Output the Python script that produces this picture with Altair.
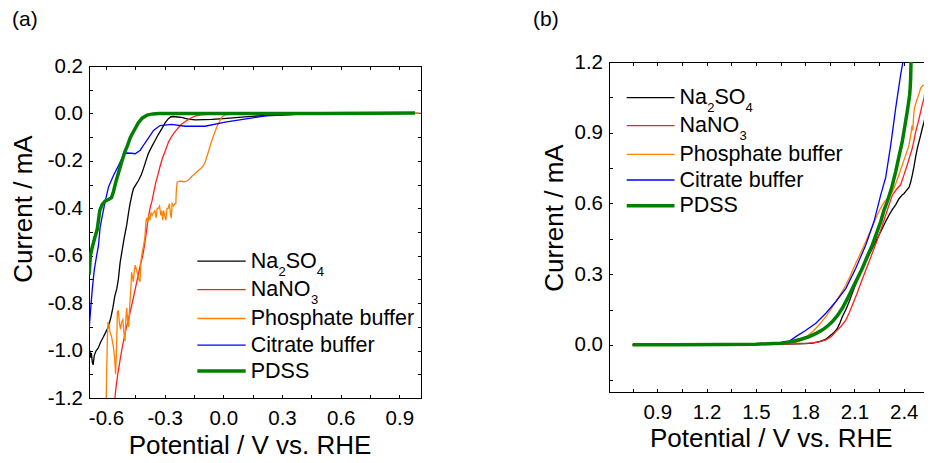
import altair as alt
import pandas as pd

FONT = "Liberation Sans"

SERIES = ["Na2SO4", "NaNO3", "Phosphate buffer", "Citrate buffer", "PDSS"]
LEGEND_PARTS = [
    [("Na", 0.0, False), ("2", 27.8, True), ("SO", 35.0, False), ("4", 66.0, True)],
    [("NaNO", 0.0, False), ("3", 60.2, True)],
    [("Phosphate buffer", 0.0, False)],
    [("Citrate buffer", 0.0, False)],
    [("PDSS", 0.0, False)],
]
COLORS = ["#000000", "#ff1f1f", "#ff8000", "#0000ff", "#008000"]
WIDTHS = [1.3, 1.3, 1.3, 1.3, 3.5]

# ---------------- panel (a): potential (V vs RHE), current (mA) ----------------
A_NA2SO4 = [(-0.689, -1.21), (-0.688, -1.10), (-0.686, -1.04), (-0.683, -1.00), (-0.679, -1.03),
            (-0.675, -1.01), (-0.670, -1.05), (-0.666, -1.06), (-0.660, -1.02), (-0.650, -1.00),
            (-0.640, -0.99), (-0.628, -0.965), (-0.615, -0.945), (-0.600, -0.92), (-0.588, -0.90),
            (-0.575, -0.86), (-0.565, -0.82), (-0.555, -0.77), (-0.545, -0.74), (-0.537, -0.70),
            (-0.528, -0.63), (-0.518, -0.58), (-0.508, -0.53), (-0.494, -0.47), (-0.485, -0.42),
            (-0.477, -0.38), (-0.468, -0.345), (-0.460, -0.318), (-0.447, -0.30), (-0.434, -0.283),
            (-0.420, -0.26), (-0.409, -0.234), (-0.396, -0.20), (-0.384, -0.170), (-0.366, -0.14),
            (-0.349, -0.114), (-0.332, -0.088), (-0.315, -0.065), (-0.298, -0.040), (-0.281, -0.022),
            (-0.268, -0.014), (-0.256, -0.013), (-0.235, -0.015), (-0.213, -0.017), (-0.180, -0.024),
            (-0.143, -0.027), (-0.100, -0.026), (-0.059, -0.025), (0.0, -0.022), (0.094, -0.016),
            (0.22, -0.008), (0.40, -0.003), (0.60, -0.001), (0.80, 0.0), (1.0, 0.0)]
A_NANO3 = [(-0.556, -1.21), (-0.548, -1.15), (-0.540, -1.10), (-0.530, -1.05), (-0.520, -1.00),
           (-0.508, -0.95), (-0.495, -0.90), (-0.480, -0.85), (-0.466, -0.80), (-0.453, -0.75),
           (-0.440, -0.70), (-0.426, -0.645), (-0.412, -0.60), (-0.402, -0.55), (-0.392, -0.49),
           (-0.384, -0.44), (-0.375, -0.40), (-0.365, -0.37), (-0.355, -0.33), (-0.345, -0.29),
           (-0.335, -0.26), (-0.324, -0.225), (-0.312, -0.19), (-0.300, -0.165), (-0.290, -0.142),
           (-0.280, -0.12), (-0.270, -0.105), (-0.260, -0.092), (-0.250, -0.080), (-0.238, -0.068),
           (-0.225, -0.055), (-0.213, -0.045), (-0.200, -0.037), (-0.187, -0.030), (-0.170, -0.022),
           (-0.155, -0.015), (-0.140, -0.010), (-0.120, -0.007), (-0.100, -0.005), (-0.070, -0.004),
           (-0.034, -0.004), (0.0, -0.003), (0.10, -0.002), (0.30, -0.001), (0.50, -0.001),
           (0.70, 0.0), (1.01, 0.0)]
A_PHOS = [(-0.599, -1.21), (-0.597, -1.10), (-0.593, -0.95), (-0.590, -0.88), (-0.585, -0.89),
          (-0.580, -0.92), (-0.572, -0.94), (-0.563, -0.98), (-0.556, -1.03), (-0.551, -1.10),
          (-0.547, -1.02), (-0.542, -0.84), (-0.537, -0.83), (-0.532, -0.88), (-0.526, -0.91),
          (-0.520, -0.88), (-0.514, -0.87), (-0.508, -0.93), (-0.503, -0.96), (-0.498, -0.86),
          (-0.494, -0.82), (-0.489, -0.88), (-0.484, -0.90), (-0.478, -0.80), (-0.473, -0.74),
          (-0.469, -0.67), (-0.464, -0.69), (-0.460, -0.71), (-0.455, -0.66), (-0.450, -0.64),
          (-0.444, -0.66), (-0.438, -0.68), (-0.432, -0.70), (-0.426, -0.71), (-0.421, -0.62),
          (-0.414, -0.58), (-0.408, -0.56), (-0.401, -0.52), (-0.396, -0.46), (-0.392, -0.44),
          (-0.387, -0.46), (-0.382, -0.43), (-0.375, -0.45), (-0.370, -0.42), (-0.364, -0.43),
          (-0.358, -0.42), (-0.350, -0.41), (-0.344, -0.44), (-0.338, -0.40), (-0.332, -0.40),
          (-0.326, -0.39), (-0.320, -0.43), (-0.315, -0.41), (-0.310, -0.45), (-0.305, -0.41),
          (-0.300, -0.43), (-0.294, -0.45), (-0.288, -0.40), (-0.282, -0.40), (-0.276, -0.38),
          (-0.270, -0.43), (-0.266, -0.44), (-0.262, -0.38), (-0.255, -0.39), (-0.248, -0.38),
          (-0.243, -0.38), (-0.240, -0.32), (-0.236, -0.29), (-0.225, -0.286), (-0.213, -0.286),
          (-0.200, -0.288), (-0.187, -0.285), (-0.175, -0.278), (-0.162, -0.266), (-0.145, -0.254),
          (-0.128, -0.241), (-0.115, -0.232), (-0.102, -0.220), (-0.093, -0.205), (-0.085, -0.185),
          (-0.072, -0.150), (-0.059, -0.114), (-0.046, -0.085), (-0.034, -0.058), (-0.020, -0.035),
          (-0.008, -0.016), (0.009, -0.006), (0.05, -0.003), (0.30, -0.001), (1.0, 0.0)]
A_CITRATE = [(-0.688, -0.93), (-0.680, -0.84), (-0.670, -0.74), (-0.660, -0.66), (-0.648, -0.60),
             (-0.639, -0.56), (-0.630, -0.48), (-0.621, -0.44), (-0.604, -0.37), (-0.587, -0.31),
             (-0.562, -0.262), (-0.536, -0.22), (-0.511, -0.177), (-0.494, -0.167), (-0.470, -0.168),
             (-0.451, -0.170), (-0.425, -0.155), (-0.405, -0.13), (-0.391, -0.114), (-0.357, -0.072),
             (-0.324, -0.051), (-0.264, -0.046), (-0.196, -0.054), (-0.093, -0.054), (0.009, -0.037),
             (0.10, -0.025), (0.22, -0.010), (0.40, -0.003), (0.60, -0.001), (0.98, 0.0)]
A_PDSS = [(-0.686, -0.68), (-0.680, -0.60), (-0.672, -0.57), (-0.656, -0.52), (-0.645, -0.49),
          (-0.632, -0.41), (-0.620, -0.385), (-0.605, -0.37), (-0.585, -0.362), (-0.572, -0.355),
          (-0.562, -0.33), (-0.550, -0.29), (-0.536, -0.25), (-0.520, -0.205), (-0.505, -0.165),
          (-0.490, -0.135), (-0.475, -0.10), (-0.455, -0.07), (-0.435, -0.04), (-0.415, -0.02),
          (-0.390, -0.007), (-0.360, -0.002), (-0.330, 0.0), (0.0, 0.0), (0.50, 0.0), (0.98, 0.002)]

# ---------------- panel (b) ----------------
B_NA2SO4 = [(0.75, 0.0), (1.0, 0.0), (1.3, 0.001), (1.5, 0.002), (1.65, 0.003), (1.75, 0.004),
            (1.80, 0.005), (1.845, 0.007), (1.886, 0.014), (1.92, 0.022), (1.946, 0.035),
            (1.972, 0.050), (1.997, 0.071), (2.012, 0.094), (2.027, 0.120), (2.048, 0.150),
            (2.068, 0.184), (2.093, 0.230), (2.118, 0.276), (2.143, 0.315), (2.169, 0.353),
            (2.194, 0.389), (2.219, 0.424), (2.245, 0.460), (2.270, 0.495), (2.290, 0.523),
            (2.311, 0.551), (2.331, 0.575), (2.351, 0.594), (2.371, 0.620), (2.391, 0.636),
            (2.402, 0.642), (2.417, 0.655), (2.432, 0.668), (2.442, 0.690), (2.452, 0.720),
            (2.462, 0.755), (2.473, 0.800), (2.483, 0.835), (2.493, 0.862), (2.503, 0.890),
            (2.513, 0.919), (2.523, 0.945), (2.533, 0.975), (2.543, 1.000), (2.553, 1.032),
            (2.563, 1.055), (2.575, 1.09)]
B_NANO3 = [(0.75, 0.0), (1.0, 0.0), (1.3, 0.001), (1.5, 0.002), (1.65, 0.003), (1.75, 0.005),
           (1.825, 0.007), (1.88, 0.012), (1.926, 0.021), (1.96, 0.035), (1.987, 0.056),
           (2.02, 0.080), (2.048, 0.106), (2.068, 0.135), (2.088, 0.170), (2.114, 0.215),
           (2.139, 0.262), (2.164, 0.308), (2.189, 0.353), (2.214, 0.399), (2.239, 0.445),
           (2.265, 0.497), (2.290, 0.551), (2.311, 0.595), (2.331, 0.636), (2.356, 0.660),
           (2.381, 0.679), (2.401, 0.720), (2.421, 0.763), (2.437, 0.800), (2.452, 0.834),
           (2.463, 0.870), (2.473, 0.905), (2.488, 0.945), (2.503, 0.989), (2.513, 1.020),
           (2.523, 1.046), (2.530, 1.080), (2.533, 1.103), (2.535, 1.160), (2.540, 1.190),
           (2.545, 1.170), (2.552, 1.160), (2.558, 1.200), (2.565, 1.23)]
B_PHOS = [(0.75, 0.0), (1.0, 0.0), (1.3, 0.001), (1.5, 0.003), (1.65, 0.006), (1.72, 0.009),
          (1.764, 0.014), (1.80, 0.030), (1.845, 0.056), (1.885, 0.085), (1.926, 0.120),
          (1.957, 0.150), (1.987, 0.184), (2.018, 0.218), (2.048, 0.254), (2.078, 0.298),
          (2.108, 0.346), (2.139, 0.392), (2.169, 0.438), (2.199, 0.487), (2.230, 0.537),
          (2.255, 0.575), (2.285, 0.610), (2.316, 0.630), (2.341, 0.664), (2.366, 0.712),
          (2.391, 0.763), (2.412, 0.805), (2.432, 0.848), (2.445, 0.900), (2.450, 0.930),
          (2.455, 0.910), (2.460, 0.970), (2.465, 1.004), (2.480, 1.040), (2.495, 1.070),
          (2.503, 1.089), (2.515, 1.100), (2.527, 1.103), (2.533, 1.159), (2.545, 1.175),
          (2.558, 1.187), (2.575, 1.20)]
B_CITRATE = [(0.75, 0.0), (1.0, 0.0), (1.3, 0.001), (1.5, 0.003), (1.6, 0.006), (1.65, 0.009),
             (1.70, 0.014), (1.75, 0.038), (1.80, 0.060), (1.865, 0.092), (1.926, 0.134),
             (1.987, 0.184), (2.048, 0.240), (2.108, 0.325), (2.169, 0.424), (2.219, 0.523),
             (2.260, 0.636), (2.290, 0.710), (2.321, 0.848), (2.351, 1.004), (2.381, 1.145),
             (2.400, 1.22)]
B_PDSS = [(0.75, 0.0), (1.0, 0.0), (1.3, 0.001), (1.5, 0.003), (1.65, 0.007), (1.723, 0.014),
          (1.78, 0.025), (1.825, 0.035), (1.87, 0.050), (1.906, 0.064), (1.94, 0.082),
          (1.966, 0.099), (1.997, 0.125), (2.027, 0.156), (2.058, 0.197), (2.088, 0.240),
          (2.118, 0.282), (2.148, 0.325), (2.178, 0.375), (2.209, 0.424), (2.235, 0.474),
          (2.260, 0.523), (2.280, 0.572), (2.300, 0.608), (2.326, 0.665), (2.351, 0.735),
          (2.371, 0.800), (2.391, 0.862), (2.406, 0.925), (2.421, 0.989), (2.430, 1.030),
          (2.436, 1.060), (2.440, 1.100), (2.442, 1.131), (2.446, 1.25)]

A_X_LABELS = [-0.6, -0.3, 0.0, 0.3, 0.6, 0.9]
A_X_TICKS = [-0.6, -0.45, -0.3, -0.15, 0.0, 0.15, 0.3, 0.45, 0.6, 0.75, 0.9]
A_Y_LABELS = [-1.2, -1.0, -0.8, -0.6, -0.4, -0.2, 0.0, 0.2]
A_Y_TICKS = [-1.2, -1.1, -1.0, -0.9, -0.8, -0.7, -0.6, -0.5, -0.4, -0.3, -0.2, -0.1, 0.0, 0.1, 0.2]
B_X_LABELS = [0.9, 1.2, 1.5, 1.8, 2.1, 2.4]
B_X_TICKS = [0.75, 0.9, 1.05, 1.2, 1.35, 1.5, 1.65, 1.8, 1.95, 2.1, 2.25, 2.4, 2.55]
B_Y_LABELS = [0.0, 0.3, 0.6, 0.9, 1.2]
B_Y_TICKS = [-0.15, 0.0, 0.15, 0.3, 0.45, 0.6, 0.75, 0.9, 1.05, 1.2]

LABEL_EXPR = "datum.value < -1e-9 ? '-' + format(-datum.value, '.1f') : format(datum.value, '.1f')"
TICK = 3.5
LABEL_SIZE = 20.5
LEGEND_SIZE = 21.5
SUB_SIZE = 13


def tick_axis(orient, vals, off):
    return alt.Axis(orient=orient, values=vals, labels=False, domain=False, grid=False,
                    ticks=True, tickSize=TICK, offset=off, tickColor="black", tickWidth=1,
                    title=None)


def frame_axis(orient, off):
    return alt.Axis(orient=orient, values=[], labels=False, ticks=False, grid=False,
                    domain=True, domainColor="black", domainWidth=1, domainCap="square",
                    offset=off, title=None)


def make_panel(data, xdom, ydom, w, h, inset, xlab, xtk, ylab, ytk, xtitle_xy, ytitle_xy,
               leg_line_x, leg_text_x, leg_rows, tag, tag_xy):
    xs = alt.Scale(domain=xdom, nice=False, zero=False)
    ys = alt.Scale(domain=ydom, nice=False, zero=False, range=[h + inset, inset])
    layers = []
    for k, pts in enumerate(data):
        df = pd.DataFrame({"V": [p[0] for p in pts], "I": [p[1] for p in pts],
                           "idx": list(range(len(pts))), "series": SERIES[k]})
        if k == 0:
            xa = alt.Axis(orient="bottom", values=xlab, labelExpr=LABEL_EXPR,
                          domain=True, domainColor="black", domainWidth=1, domainCap="square",
                          ticks=False, tickSize=0, grid=False, labelPadding=10.5,
                          labelFontSize=LABEL_SIZE, labelFont=FONT, labelColor="black",
                          labelFlush=False, labelOverlap=False,
                          title="Potential / V vs. RHE", titleFont=FONT, titleFontSize=26,
                          titleFontWeight="normal", titleColor="black",
                          titleX=xtitle_xy[0], titleY=xtitle_xy[1], titleAlign="center",
                          titleBaseline="alphabetic")
            ya = alt.Axis(orient="left", values=ylab, labelExpr=LABEL_EXPR,
                          domain=True, domainColor="black", domainWidth=1, domainCap="square",
                          ticks=False, tickSize=0, grid=False, labelPadding=6.5,
                          labelFontSize=LABEL_SIZE, labelFont=FONT, labelColor="black",
                          labelFlush=False, labelOverlap=False,
                          title="Current / mA", titleFont=FONT, titleFontSize=26,
                          titleFontWeight="normal", titleColor="black", titleAngle=270,
                          titleX=ytitle_xy[0], titleY=ytitle_xy[1], titleAlign="center",
                          titleBaseline="alphabetic")
            enc_x = alt.X("V:Q", scale=xs, axis=xa)
            enc_y = alt.Y("I:Q", scale=ys, axis=ya)
        else:
            enc_x = alt.X("V:Q", scale=xs, axis=None)
            enc_y = alt.Y("I:Q", scale=ys, axis=None)
        layers.append(
            alt.Chart(df).mark_line(clip=True, color=COLORS[k], strokeWidth=WIDTHS[k])
            .encode(x=enc_x, y=enc_y, order=alt.Order("idx:Q"))
        )

    mid = pd.DataFrame({"V": [sum(xdom) / 2], "I": [sum(ydom) / 2]})
    layers.append(alt.Chart(mid).mark_point(opacity=0).encode(
        x=alt.X("V:Q", scale=xs, axis=tick_axis("bottom", xtk, -TICK)),
        y=alt.Y("I:Q", scale=ys, axis=tick_axis("left", ytk, -TICK))))
    layers.append(alt.Chart(mid).mark_point(opacity=0).encode(
        x=alt.X("V:Q", scale=xs, axis=tick_axis("top", xtk, -(inset + TICK))),
        y=alt.Y("I:Q", scale=ys, axis=tick_axis("right", ytk, -TICK))))
    layers.append(alt.Chart(mid).mark_point(opacity=0).encode(
        x=alt.X("V:Q", scale=xs, axis=frame_axis("top", -inset)),
        y=alt.Y("I:Q", scale=ys, axis=frame_axis("right", 0))))

    one = alt.Data(values=[{"a": 1}])
    for k in range(len(SERIES)):
        ry = leg_rows[k]
        layers.append(alt.Chart(one).mark_rule(color=COLORS[k], strokeWidth=WIDTHS[k]).encode(
            x=alt.value(leg_line_x[0]), x2=alt.value(leg_line_x[1]), y=alt.value(ry)))
        for txt, dx, sub in LEGEND_PARTS[k]:
            layers.append(alt.Chart(one).mark_text(
                text=txt, font=FONT, fontSize=SUB_SIZE if sub else LEGEND_SIZE, align="left",
                baseline="alphabetic", color="black").encode(
                x=alt.value(leg_text_x + dx), y=alt.value(ry + (14.3 if sub else 6.6))))
    layers.append(alt.Chart(one).mark_text(
        text=tag, font=FONT, fontSize=21, align="left", baseline="top", color="black").encode(
        x=alt.value(tag_xy[0]), y=alt.value(tag_xy[1])))

    return alt.layer(*layers).resolve_axis(x="independent", y="independent").properties(
        width=w, height=h + inset)


panel_a = make_panel([A_NA2SO4, A_NANO3, A_PHOS, A_CITRATE, A_PDSS],
                     [-0.687, 1.011], [-1.2, 0.2], 332, 332, 4,
                     A_X_LABELS, A_X_TICKS, A_Y_LABELS, A_Y_TICKS,
                     (160.5, 55), (-58, 146.5),
                     (108.3, 156.7), 161.7, [199.2, 227.7, 256.5, 283.2, 309.0],
                     "(a)", (-77, -53))
panel_b = make_panel([B_NA2SO4, B_NANO3, B_PHOS, B_CITRATE, B_PDSS],
                     [0.606, 2.572], [-0.2, 1.2], 323, 330, 0,
                     B_X_LABELS, B_X_TICKS, B_Y_LABELS, B_Y_TICKS,
                     (161.8, 54.5), (-46.5, 155.5),
                     (17.7, 65.5), 70.4, [35.7, 63.7, 92.3, 118.0, 143.7],
                     "(b)", (-76, -53))

chart = alt.hconcat(panel_a, panel_b, spacing=111).properties(
    padding={"left": 2, "top": 1, "right": -9, "bottom": -4},
    background="white",
).configure_view(strokeWidth=0)

chart.save("out.html", embed_options={"renderer": "svg", "actions": False})
